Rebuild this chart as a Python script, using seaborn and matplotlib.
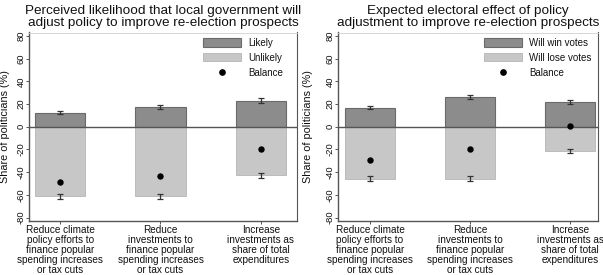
import matplotlib
matplotlib.use("Agg")
import matplotlib.pyplot as plt
import seaborn as sns
import pandas as pd
from matplotlib.patches import Patch
from matplotlib.lines import Line2D

sns.set_theme(style="white")
plt.rcParams['font.family'] = ['Liberation Sans', 'DejaVu Sans']

categories_left = ["Reduce climate\npolicy efforts to\nfinance popular\nspending increases\nor tax cuts",
                   "Reduce\ninvestments to\nfinance popular\nspending increases\nor tax cuts",
                   "Increase\ninvestments as\nshare of total\nexpenditures"]
categories_right = categories_left

likely = [12.4, 17.5, 23.1]
likely_err = [1.5, 1.5, 1.8]
unlikely = [-61.2, -61.2, -42.6]
unlikely_err = [2.2, 2.2, 2.2]
balance_left = [-48.8, -43.7, -19.5]

win = [16.9, 26.4, 21.6]
win_err = [1.5, 1.8, 1.8]
lose = [-45.9, -45.9, -21.2]
lose_err = [2.2, 2.2, 1.8]
balance_right = [-29.0, -19.5, 0.4]

titles = ["Perceived likelihood that local government will\nadjust policy to improve re-election prospects",
          "Expected electoral effect of policy\nadjustment to improve re-election prospects"]
legend_labels = [["Likely", "Unlikely", "Balance"],
                 ["Will win votes", "Will lose votes", "Balance"]]
yticks = [-80, -60, -40, -20, 0, 20, 40, 60, 80]

dark = "#8c8c8c"
dark_edge = "#6a6a6a"
light = "#c7c7c7"
light_edge = "#b5b5b5"
txt = "#111111"

fig = plt.figure(figsize=(6.03, 2.75), dpi=100)
axL = fig.add_axes([29/603, 1-221/275, 268/603, (221-32.5)/275])
axR = fig.add_axes([338/603, 1-221/275, 260/603, (221-32.5)/275])

panels = [
    (axL, categories_left, likely, likely_err, unlikely, unlikely_err, balance_left,
     (-0.31, 2.36), (203-29)/268, -0.071),
    (axR, categories_right, win, win_err, lose, lose_err, balance_right,
     (-0.32, 2.28), (484-338)/260, -0.098),
]

for i, (ax, cats, pos, pos_e, neg, neg_e, bal, xl, legx, ylx) in enumerate(panels):
    dfp = pd.DataFrame({"cat": cats, "val": pos})
    dfn = pd.DataFrame({"cat": cats, "val": neg})
    dfb = pd.DataFrame({"cat": cats, "val": bal})
    sns.barplot(data=dfp, x="cat", y="val", ax=ax, color=dark, saturation=1,
                width=0.5, errorbar=None, edgecolor=dark_edge, linewidth=0.8)
    sns.barplot(data=dfn, x="cat", y="val", ax=ax, color=light, saturation=1,
                width=0.5, errorbar=None, edgecolor=light_edge, linewidth=0.6)
    ax.errorbar(range(len(cats)), pos, yerr=pos_e, fmt="none", ecolor="#333333",
                elinewidth=0.9, capsize=2.2, capthick=0.9, zorder=5)
    ax.errorbar(range(len(cats)), neg, yerr=neg_e, fmt="none", ecolor="#333333",
                elinewidth=0.9, capsize=2.2, capthick=0.9, zorder=5)
    sns.stripplot(data=dfb, x="cat", y="val", ax=ax, jitter=False, color="black",
                  size=4.6, zorder=6)
    ax.axhline(0, color="#555555", lw=1.0, zorder=4)
    ax.set_xlim(*xl)
    ax.set_ylim(-83, 83)
    ax.set_yticks(yticks)
    ax.set_yticklabels([str(t) for t in yticks], rotation=90, va="center",
                       fontsize=6.8, color=txt)
    ax.set_xticks(range(len(cats)))
    ax.set_xticklabels(cats, fontsize=7.2, color=txt, linespacing=1.0)
    ax.tick_params(axis="both", which="both", direction="out", length=2.3,
                   width=0.7, color="#555555", bottom=True, left=True)
    ax.tick_params(axis="x", pad=0.7)
    ax.tick_params(axis="y", pad=0.0)
    ax.set_xlabel("")
    ax.set_ylabel("Share of politicians (%)", fontsize=7.8, color=txt)
    ax.yaxis.set_label_coords(ylx, 0.5)
    ax.set_title(titles[i], fontsize=9.7, color=txt, linespacing=1.0, pad=4.7)
    for s in ["left", "bottom"]:
        ax.spines[s].set_color("#555555")
        ax.spines[s].set_linewidth(1.0)
    ax.spines["right"].set_color("#555555")
    ax.spines["right"].set_linewidth(0.8)
    ax.spines["top"].set_color("#d0d0d0")
    ax.spines["top"].set_linewidth(0.6)
    handles = [Patch(facecolor=dark, edgecolor=dark_edge, linewidth=0.8),
               Patch(facecolor=light, edgecolor=light_edge, linewidth=0.6),
               Line2D([], [], marker="o", color="black", linestyle="none", markersize=3.8)]
    leg = ax.legend(handles, legend_labels[i], loc="upper left",
                    bbox_to_anchor=(legx, 0.972), frameon=False, fontsize=7.0,
                    handlelength=3.9, handleheight=0.93, labelspacing=0.5,
                    handletextpad=0.72, borderaxespad=0.0, borderpad=0.0)
    for t in leg.get_texts():
        t.set_color(txt)

fig.savefig("out.png", dpi=100)
